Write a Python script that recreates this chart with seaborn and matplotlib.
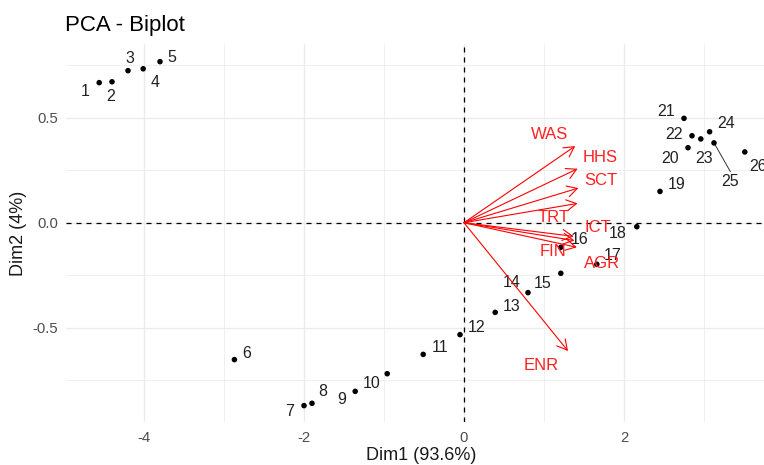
import matplotlib
matplotlib.use("Agg")
import matplotlib.pyplot as plt
import seaborn as sns
import pandas as pd

# Individual coordinates on the first two principal dimensions
ind_ids = [str(i) for i in range(1, 27)]
dim1 = [-4.56, -4.40, -4.20, -4.01, -3.80, -2.87, -2.00, -1.90, -1.36, -0.96,
        -0.51, -0.05, 0.39, 0.80, 1.21, 1.21, 1.66, 2.16, 2.45, 2.80,
        2.75, 2.85, 2.96, 3.07, 3.125, 3.51]
dim2 = [0.667, 0.671, 0.724, 0.733, 0.767, -0.652, -0.871, -0.860, -0.803, -0.719,
        -0.627, -0.533, -0.427, -0.333, -0.241, -0.117, -0.198, -0.019, 0.149, 0.357,
        0.497, 0.414, 0.399, 0.433, 0.380, 0.337]

# Variable loadings (arrow tips)
var_names = ["WAS", "HHS", "SCT", "TRT", "ICT", "AGR", "FIN", "ENR"]
var_dim1 = [1.39, 1.42, 1.43, 1.42, 1.37, 1.38, 1.41, 1.30]
var_dim2 = [0.365, 0.257, 0.165, 0.092, -0.065, -0.085, -0.117, -0.611]

# Repelled label anchors
ind_label_pos = {
    "1": (-4.74, 0.624), "2": (-4.42, 0.603), "3": (-4.18, 0.783), "4": (-3.86, 0.669),
    "5": (-3.65, 0.788), "6": (-2.72, -0.625), "7": (-2.175, -0.897), "8": (-1.77, -0.805),
    "9": (-1.53, -0.844), "10": (-1.15, -0.768), "11": (-0.30, -0.593), "12": (0.16, -0.498),
    "13": (0.60, -0.397), "14": (0.60, -0.284), "15": (0.98, -0.289), "16": (1.44, -0.082),
    "17": (1.86, -0.154), "18": (1.925, -0.049), "19": (2.66, 0.183), "20": (2.575, 0.307),
    "21": (2.525, 0.529), "22": (2.62, 0.421), "23": (3.0, 0.307), "24": (3.275, 0.473),
    "25": (3.33, 0.195), "26": (3.68, 0.267),
}
var_label_pos = {
    "WAS": (1.067, 0.422), "HHS": (1.70, 0.311), "SCT": (1.71, 0.200), "TRT": (1.12, 0.024),
    "ICT": (1.675, -0.025), "AGR": (1.72, -0.193), "FIN": (1.11, -0.138), "ENR": (0.97, -0.682),
}

ind_df = pd.DataFrame({"id": ind_ids, "Dim1": dim1, "Dim2": dim2})

sns.set_theme(style="white")
plt.rcParams["font.family"] = ["Liberation Sans", "DejaVu Sans"]
plt.rcParams["axes.unicode_minus"] = False

fig = plt.figure(figsize=(7.64, 4.65), dpi=100)
ax = fig.add_axes([66 / 764, 1 - 422 / 465, 1 - 66 / 764, (422 - 44) / 465])

ax.set_xlim(-4.975, 3.75)
ax.set_ylim(-0.949, 0.851)

ax.set_xticks([-4, -2, 0, 2])
ax.set_xticks([-3, -1, 1, 3], minor=True)
ax.set_yticks([-0.5, 0.0, 0.5])
ax.set_yticklabels(["-0.5", "0.0", "0.5"])
ax.set_yticks([-0.75, -0.25, 0.25, 0.75], minor=True)
ax.grid(which="major", color="#EBEBEB", lw=1.0)
ax.grid(which="minor", color="#EFEFEF", lw=0.7)
ax.set_axisbelow(True)
for s in ax.spines.values():
    s.set_visible(False)
ax.tick_params(which="both", length=0)
ax.tick_params(axis="y", labelsize=10.7, labelcolor="#4D4D4D", pad=5.5)
ax.tick_params(axis="x", labelsize=10.7, labelcolor="#4D4D4D", pad=6.5)

# Reference lines through the origin
ax.axhline(0, color="black", lw=0.9, ls=(0, (4, 4)), zorder=1)
ax.axvline(0, color="black", lw=0.9, ls=(0, (4, 4)), zorder=1)

# Individuals
sns.scatterplot(data=ind_df, x="Dim1", y="Dim2", ax=ax, color="black",
                s=16, edgecolor="none", zorder=3, legend=False)
for name, x0, y0 in zip(ind_ids, dim1, dim2):
    lx, ly = ind_label_pos[name]
    if name == "25":
        ax.plot([x0, 3.33], [y0, 0.243], color="#333333", lw=0.7, zorder=2)
    ax.text(lx, ly, name, ha="center", va="center", fontsize=11.5,
            color="#222222", zorder=4)

# Variables
for name, vx, vy in zip(var_names, var_dim1, var_dim2):
    ax.annotate("", xy=(vx, vy), xytext=(0, 0),
                arrowprops=dict(arrowstyle="->,head_length=0.6,head_width=0.33",
                                color="red", lw=0.8, shrinkA=0, shrinkB=0),
                zorder=5)
    lx, ly = var_label_pos[name]
    ax.text(lx, ly, name, ha="center", va="center", fontsize=12,
            color="#FF2020", zorder=6)

ax.set_xlabel("Dim1 (93.6%)", fontsize=13, color="#1a1a1a")
ax.set_ylabel("Dim2 (4%)", fontsize=13, color="#1a1a1a")
ax.xaxis.set_label_coords((421 - 66) / (764 - 66), -(447 - 422) / (422 - 44))
ax.yaxis.set_label_coords(-(66 - 27) / (764 - 66), (422 - 233) / (422 - 44))

fig.text(65 / 764, 1 - 25 / 465, "PCA - Biplot", fontsize=16, va="center",
         ha="left", color="black")

fig.savefig("out.png", dpi=100, facecolor="white")
